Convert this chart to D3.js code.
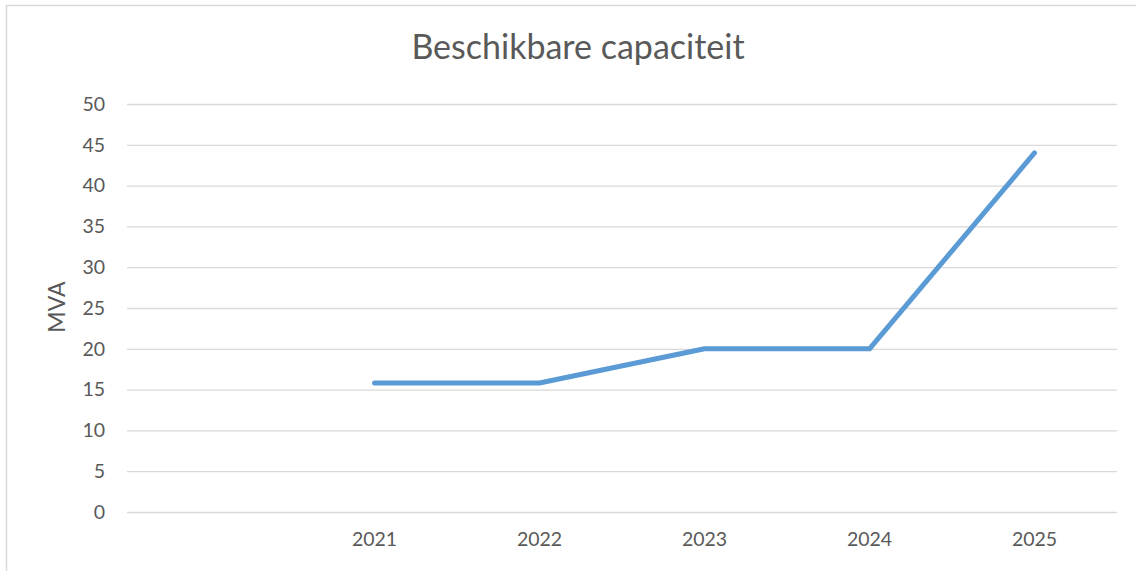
<!DOCTYPE html>
<html>
<head>
<meta charset="utf-8">
<script src="https://cdn.jsdelivr.net/npm/d3@7"></script>
<style>
  body { margin: 0; background: #fff; }
  text { font-family: Lato, "Open Sans", sans-serif; fill: #595959; }
</style>
</head>
<body>
<svg width="1136" height="571"></svg>
<script>
// data
const years = ['', '2021', '2022', '2023', '2024', '2025'];
const capacity = [null, 15.8, 15.8, 20, 20, 44];
const yTicks = [0, 5, 10, 15, 20, 25, 30, 35, 40, 45, 50];

const svg = d3.select('svg');
const margin = { left: 127, right: 1117, top: 104, bottom: 512 };

// chart border
svg.append('rect')
	.attr('x', 6.5)
	.attr('y', 5.5)
	.attr('width', 1140)
	.attr('height', 580)
	.attr('fill', 'none')
	.attr('stroke', '#d9d9d9')
	.attr('stroke-width', 1.5);

const x = d3.scaleBand()
	.domain(years)
	.range([margin.left, margin.right]);

const y = d3.scaleLinear()
	.domain([0, 50])
	.range([margin.bottom, margin.top]);

// gridlines + y labels
const yAxis = d3.axisLeft(y)
	.tickValues(yTicks)
	.tickSize(-(margin.right - margin.left))
	.tickPadding(22);
const gy = svg.append('g')
	.attr('transform', `translate(${margin.left},0)`)
	.call(yAxis);
gy.select('.domain').remove();
gy.selectAll('line').attr('stroke', '#d9d9d9').attr('stroke-width', 1.3);
gy.selectAll('text')
	.attr('font-size', 19.5)
	.attr('fill', '#595959')
	.style('font-family', 'Lato, "Open Sans", sans-serif');

// x labels
const xAxis = d3.axisBottom(x).tickSize(0).tickPadding(20);
const gx = svg.append('g')
	.attr('transform', `translate(0,${margin.bottom})`)
	.call(xAxis);
gx.select('.domain').remove();
gx.selectAll('text')
	.attr('font-size', 19.5)
	.attr('fill', '#595959')
	.style('font-family', 'Lato, "Open Sans", sans-serif');

// line
const pts = years.map((d, i) => ({ year: d, v: capacity[i] })).filter(d => d.v != null);
const line = d3.line()
	.x(d => x(d.year) + x.bandwidth() / 2)
	.y(d => y(d.v));
svg.append('path')
	.datum(pts)
	.attr('d', line)
	.attr('fill', 'none')
	.attr('stroke', '#5b9bd5')
	.attr('stroke-width', 5)
	.attr('stroke-linecap', 'round')
	.attr('stroke-linejoin', 'round');

// title
svg.append('text')
	.attr('x', 578)
	.attr('y', 59)
	.attr('text-anchor', 'middle')
	.attr('font-size', 34)
	.text('Beschikbare capaciteit');

// y title
svg.append('text')
	.attr('transform', 'translate(65,307) rotate(-90)')
	.attr('text-anchor', 'middle')
	.attr('font-size', 23)
	.text('MVA');
</script>
</body>
</html>
